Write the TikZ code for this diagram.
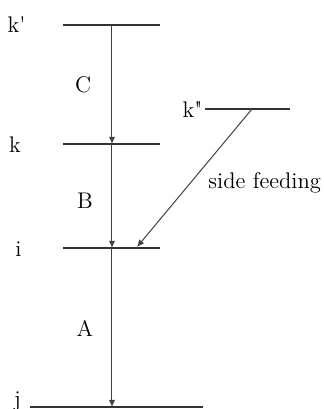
\documentclass[tikz,border=0pt]{standalone}
\usetikzlibrary{arrows.meta}
\begin{document}
\begin{tikzpicture}[x=0.5pt, y=-0.5pt,
    every node/.style={font=\fontsize{11.3}{13}\selectfont, inner sep=0pt},
    level/.style={line width=0.7pt, black!80},
    trans/.style={line width=0.5pt, black!75, -{Latex[length=3.6pt,width=3.2pt]}}]
  \useasboundingbox (0,0) rectangle (324,409);
  % levels
  \coordinate (Kp) at (112,25);  \coordinate (K) at (112,144);
  \coordinate (I) at (112,248);  \coordinate (J) at (112,407);
  \coordinate (Kpp) at (252,109); \coordinate (S) at (137,247);
  \foreach \y/\a/\b in {25/63/160, 144/63/160, 248/63/160, 407/30/203, 109/205/290}
    \draw[level] (\a,\y) -- (\b,\y);
  % transitions
  \draw[trans] (Kp) -- (K);
  \draw[trans] (K) -- (I);
  \draw[trans] (I) -- (J);
  \draw[trans] (Kpp) -- (S);
  % labels
  \node[anchor=base] (lKp) at (16.5,32) {k\textquotesingle};
  \node[anchor=base] (lK) at (15,152) {k};
  \node[anchor=base] (lI) at (18.5,256) {i};
  \node[anchor=base] (lJ) at (17.5,406) {j};
  \node[anchor=base] (lKpp) at (192.5,117) {k\textquotedbl};
  \node[anchor=base] (lC) at (83,92) {C};
  \node[anchor=base] (lB) at (85,208) {B};
  \node[anchor=base] (lA) at (85,336) {A};
  \node[anchor=base west] (lS) at (208,188) {side feeding};
\end{tikzpicture}
\end{document}
